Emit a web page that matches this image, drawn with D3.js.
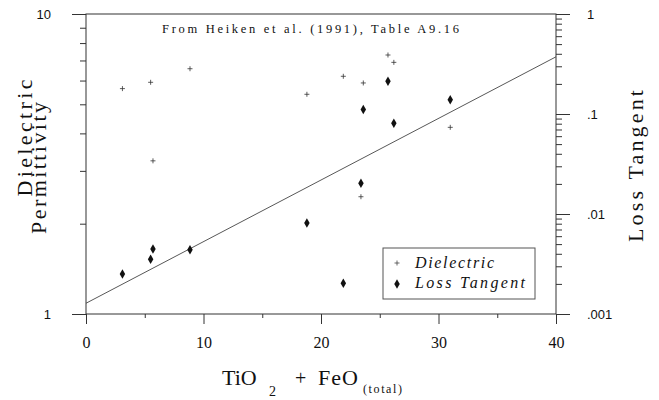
<!DOCTYPE html>
<html>
<head>
<meta charset="utf-8">
<script src="https://cdn.jsdelivr.net/npm/d3@7"></script>
<style>
  body { margin: 0; background: #fff; }
  svg { display: block; }
  .serif { font-family: "Liberation Serif", "DejaVu Serif", serif; fill: #111; }
  .sans { font-family: "Liberation Sans", Arial, sans-serif; fill: #111; }
</style>
</head>
<body>
<svg width="659" height="400"></svg>
<script>
// samples: TiO2 + FeO(total), dielectric permittivity, loss tangent
const tio2 = [3.1, 5.5, 5.7, 8.85, 18.8, 21.9, 23.4, 23.6, 25.7, 26.2, 31.0];
const dielectric = [5.64, 5.92, 3.24, 6.57, 5.40, 6.20, 2.46, 5.89, 7.30, 6.90, 4.19];
const lossTangent = [0.00251, 0.00352, 0.00447, 0.0044, 0.00813, 0.00203, 0.0203, 0.111, 0.212, 0.0807, 0.139];

// fitted line (in dielectric units)
const fitX = [0, 40];
const fitY = [1.086, 7.2];

const xTicks = [0, 10, 20, 30, 40];
const xMinor = [5, 15, 25, 35];
const leftTicks = [1, 10];
const rightTicks = [1, 0.1, 0.01, 0.001];
const rightLabels = ['1', '.1', '.01', '.001'];

const plot = { left: 86, right: 556, top: 14, bottom: 314 };

const svg = d3.select('svg');

const x = d3.scaleLinear().domain([0, 40]).range([plot.left, plot.right]);
const yDiel = d3.scaleLog().domain([1, 10]).range([plot.bottom, plot.top]);
const yLoss = d3.scaleLog().domain([0.001, 1]).range([plot.bottom, plot.top]);

const minorsFor = (lo, hi) => {
    const out = [];
    for (let d = lo; d < hi; d *= 10)
        for (let k = 2; k <= 9; k++) out.push(+(d * k).toPrecision(3));
    return out;
}

// frame
svg.append('rect')
    .attr('x', plot.left).attr('y', plot.top)
    .attr('width', plot.right - plot.left).attr('height', plot.bottom - plot.top)
    .attr('fill', 'none').attr('stroke', '#333').attr('stroke-width', 1);

// left axis
const gl = svg.append('g').attr('transform', `translate(${plot.left},0)`);
gl.call(d3.axisLeft(yDiel).tickValues(minorsFor(1, 10)).tickSize(6).tickFormat(''));
gl.append('g').call(d3.axisLeft(yDiel).tickValues(leftTicks).tickSize(14).tickPadding(21).tickFormat(d3.format('d')));
gl.selectAll('.domain').remove();
gl.selectAll('text').attr('class', 'sans').style('font-size', '13px');

// right axis
const gr = svg.append('g').attr('transform', `translate(${plot.right},0)`);
gr.call(d3.axisRight(yLoss).tickValues(minorsFor(0.001, 1)).tickSize(6).tickFormat(''));
gr.append('g').call(d3.axisRight(yLoss).tickValues(rightTicks).tickSize(14).tickPadding(17)
    .tickFormat((d, i) => rightLabels[i]));
gr.selectAll('.domain').remove();
gr.selectAll('text').attr('class', 'sans').style('font-size', '13px');

// bottom axis
const gb = svg.append('g').attr('transform', `translate(0,${plot.bottom})`);
gb.call(d3.axisBottom(x).tickValues(xMinor).tickSize(4).tickFormat(''));
gb.append('g').call(d3.axisBottom(x).tickValues(xTicks).tickSize(10).tickPadding(13).tickFormat(d3.format('d')));
gb.selectAll('.domain').remove();
gb.selectAll('text').attr('class', 'serif').style('font-size', '16px');

svg.selectAll('.tick line').attr('stroke', '#333');

// fit line
svg.append('path')
    .datum(fitX.map((v, i) => [v, fitY[i]]))
    .attr('fill', 'none').attr('stroke', '#444').attr('stroke-width', 0.9)
    .attr('d', d3.line().x(d => x(d[0])).y(d => yDiel(d[1])));

const plus = 'M-2.5,0H2.5M0,-2.5V2.5';
const diamond = d3.symbol().type(d3.symbolDiamond).size(26);

// dielectric points
svg.append('g').selectAll('path')
    .data(tio2)
    .join('path')
    .attr('d', plus)
    .attr('transform', (d, i) => `translate(${x(d)},${yDiel(dielectric[i])})`)
    .attr('stroke', '#333').attr('stroke-width', 0.8).attr('fill', 'none');

// loss tangent points
svg.append('g').selectAll('path')
    .data(tio2)
    .join('path')
    .attr('d', diamond)
    .attr('transform', (d, i) => `translate(${x(d)},${yLoss(lossTangent[i])})`)
    .attr('fill', '#111');

// title
svg.append('text').attr('class', 'serif')
    .attr('x', 162).attr('y', 33)
    .attr('textLength', 297).attr('lengthAdjust', 'spacing')
    .style('font-size', '12.5px')
    .text('From Heiken et al. (1991), Table A9.16');

// legend
const lg = svg.append('g');
lg.append('rect').attr('x', 383).attr('y', 248).attr('width', 152).attr('height', 51)
    .attr('fill', '#fff').attr('stroke', '#555').attr('stroke-width', 1);
lg.append('path').attr('d', plus).attr('transform', 'translate(397,263)')
    .attr('stroke', '#444').attr('stroke-width', 0.8).attr('fill', 'none');
lg.append('path').attr('d', diamond).attr('transform', 'translate(397,284)').attr('fill', '#111');
lg.append('text').attr('class', 'serif').attr('x', 415).attr('y', 268)
    .attr('textLength', 79).attr('lengthAdjust', 'spacing')
    .style('font-size', '16px').style('font-style', 'italic').text('Dielectric');
lg.append('text').attr('class', 'serif').attr('x', 415).attr('y', 288)
    .attr('textLength', 110).attr('lengthAdjust', 'spacing')
    .style('font-size', '16px').style('font-style', 'italic').text('Loss Tangent');

// y axis titles
svg.append('text').attr('class', 'serif')
    .attr('transform', 'translate(32,138) rotate(-90)')
    .attr('text-anchor', 'middle')
    .attr('textLength', 117).attr('lengthAdjust', 'spacing')
    .style('font-size', '22px').text('Dielectric');
svg.append('text').attr('class', 'serif')
    .attr('transform', 'translate(46,168) rotate(-90)')
    .attr('text-anchor', 'middle')
    .attr('textLength', 132).attr('lengthAdjust', 'spacing')
    .style('font-size', '22px').text('Permittivity');
svg.append('text').attr('class', 'serif')
    .attr('transform', 'translate(643,166) rotate(-90)')
    .attr('text-anchor', 'middle')
    .attr('textLength', 152).attr('lengthAdjust', 'spacing')
    .style('font-size', '22px').text('Loss Tangent');

// x axis title
const xt = svg.append('g');
xt.append('text').attr('class', 'serif').attr('x', 222).attr('y', 385)
    .style('font-size', '22px').text('TiO');
xt.append('text').attr('class', 'serif').attr('x', 269).attr('y', 396)
    .style('font-size', '14px').text('2');
xt.append('text').attr('class', 'serif').attr('x', 295).attr('y', 385)
    .style('font-size', '20px').text('+');
xt.append('text').attr('class', 'serif').attr('x', 318).attr('y', 385)
    .attr('textLength', 40).attr('lengthAdjust', 'spacing')
    .style('font-size', '22px').text('FeO');
xt.append('text').attr('class', 'serif').attr('x', 363).attr('y', 393)
    .attr('textLength', 39).attr('lengthAdjust', 'spacing')
    .style('font-size', '12px').text('(total)');
</script>
</body>
</html>
